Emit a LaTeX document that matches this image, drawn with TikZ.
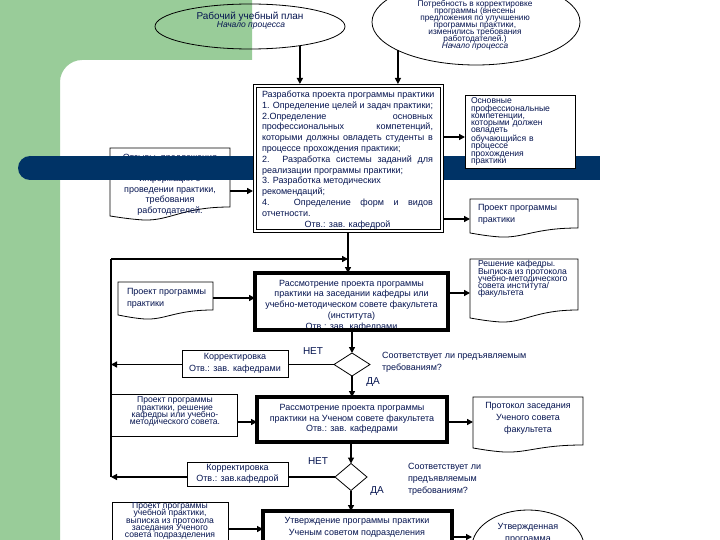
\documentclass[tikz,border=0pt]{standalone}
\usepackage{fontspec}
\setmainfont{Liberation Sans}
\usetikzlibrary{shapes.geometric,arrows.meta,calc}
\definecolor{bggreen}{RGB}{153,204,153}
\definecolor{navy}{RGB}{0,51,102}
\definecolor{ink}{RGB}{5,20,80}
\lineskiplimit=-100pt
\newcommand{\docshape}[6]{%
 \draw[line width=0.8pt, fill=white] (#2,#3) -- (#4,#3) -- (#4,#6)
   .. controls ({#4-0.4*(#4-#2)},#6) and ({#2+0.5*(#4-#2)},{#5+5}) .. ({#2+0.28*(#4-#2)},{#5+4})
   .. controls ({#2+0.15*(#4-#2)},{#5+3}) and ({#2+0.06*(#4-#2)},{#5+1}) .. (#2,#5) -- cycle;
 \node[minimum width={#4-#2}, minimum height={#5-#3}, anchor=north west] (#1) at (#2,#3) {};
}
\newcommand{\lnjust}[1]{\makebox[171pt][s]{#1}}
\newcommand{\lnleft}[1]{\makebox[171pt][l]{#1}}
\begin{document}
\begin{tikzpicture}[x=1pt,y=-1pt,
  every node/.style={inner sep=0pt, outer sep=0pt, text=ink, font=\fontsize{9}{10.8}\selectfont},
  tight/.style={font=\fontsize{8.6}{7.2}\selectfont},
  sp12/.style={font=\fontsize{9}{12}\selectfont},
  box/.style={draw=black, fill=white, line width=0.8pt},
  thickb/.style={draw=black, line width=3.5pt},
  arr/.style={draw=black, line width=1.3pt, -{Triangle[length=6pt,width=6pt]}},
  ln/.style={draw=black, line width=1.3pt},
  lbl/.style={font=\fontsize{10}{12}\selectfont}
]
\useasboundingbox (0,0) rectangle (720,540);
\clip (0,0) rectangle (720,540);
\fill[white] (0,0) rectangle (720,540);
\fill[bggreen] (0,0) -- (252,0) -- (252,60) -- (82,60) .. controls (70,60) and (60,70) .. (60,82) -- (60,540) -- (0,540) -- cycle;

% start ellipses
\node[ellipse, draw=black, line width=0.8pt, minimum width=190, minimum height=45] (e1) at (250,26.5) {};
\node[font=\fontsize{10}{12}\selectfont] (e1a) at (250,17) {Рабочий учебный план};
\node[font=\fontsize{8.5}{10}\selectfont\itshape] (e1b) at (251,25.5) {Начало процесса};
\node[ellipse, draw=black, line width=0.8pt, minimum width=208, minimum height=86] (e2) at (476,22) {};
\node[align=center, font=\fontsize{8.3}{6.9}\selectfont] (e2t) at (475,25.5) {Потребность в корректировке\\программы (внесены\\предложения по улучшению\\программы практики,\\изменились требования\\работодателей.)\\\textit{Начало процесса}};

% left document (partly under the bar)
\docshape{d1}{110}{148}{230}{216}{207}
\node[align=center, font=\fontsize{9}{10.5}\selectfont] (d1t) at (170,184.8) {Отзывы, предложения\\по практике,\\информация о\\проведении практики,\\требования\\работодателей.};

% navy bar
\fill[navy] (30,168) circle (12);
\fill[navy] (30,156) rectangle (600,180);

% main development box
\node[fill=white, minimum width=190, minimum height=148] (m1) at (348,158) {};
\draw[line width=0.8pt] (m1.north west) rectangle (m1.south east);
\draw[line width=0.8pt] ([shift={(3pt,-3pt)}]m1.north west) rectangle ([shift={(-3pt,3pt)}]m1.south east);
\node[align=left] (m1t) at (347.5,160) {\lnleft{Разработка проекта программы практики}\\
\lnjust{1. Определение целей и задач практики;}\\
\lnjust{2.Определение основных}\\
\lnjust{профессиональных компетенций,}\\
\lnjust{которыми должны овладеть студенты в}\\
\lnleft{процессе прохождения практики;}\\
\lnjust{2. Разработка системы заданий для}\\
\lnleft{реализации программы практики;}\\
\lnleft{3. Разработка методических}\\
\lnleft{рекомендаций;}\\
\lnjust{4. Определение форм и видов}\\
\lnleft{отчетности.}\\
\makebox[171pt][c]{Отв.: зав. кафедрой}};

% competences box
\node[box, tight, align=left, text width=98, inner xsep=6, minimum height=73] (r1) at (520,131.5) {Основные\\профессиональные\\компетенции,\\которыми должен\\овладеть\\обучающийся в\\процессе\\прохождения\\практики};

% project document right
\docshape{d2}{470}{199}{578}{233}{228}
\node[align=left, sp12, anchor=west] (d2t) at (478,214) {Проект программы\\практики};

% review 1
\node[fill=white, minimum width=193, minimum height=57] (rv1) at (351.5,301.5) {};
\node[align=center] (rv1t) at (351.5,305.5) {Рассмотрение проекта программы\\практики на заседании кафедры или\\учебно-методическом совете факультета\\(института)\\Отв.: зав. кафедрами};
\draw[thickb] (rv1.north west) rectangle (rv1.south east);

\docshape{d3}{118}{282}{213}{315}{310}
\node[align=left, sp12, anchor=west] (d3t) at (127,298) {Проект программы\\практики};

\docshape{d4}{470}{259}{578}{318}{310}
\node[align=left, tight, anchor=west] (d4t) at (478,279) {Решение кафедры.\\Выписка из протокола\\учебно-методического\\совета института/\\факультета};

% loop coordinates
\coordinate (Lt) at (111,259);

% decision 1
\node[diamond, draw=black, line width=0.8pt, fill=white, minimum width=36, minimum height=23, aspect=1.56] (D1) at (352,364.5) {};
\draw[arr] (D1.west) -- (D1.west -| Lt);
\node[box, sp12, align=center, minimum width=106, minimum height=27] (k1) at (235,363.5) {Корректировка\\Отв.: зав. кафедрами};
\node[lbl] (n1) at (313,351) {НЕТ};
\node[lbl] (y1) at (373,382) {ДА};
\node[sp12, align=left, anchor=west] (q1) at (382,362) {Соответствует ли предъявляемым\\требованиям?};

% review 2
\node[fill=white, minimum width=190, minimum height=45] (rv2) at (352,419.5) {};
\node[align=center] (rv2t) at (352,419) {Рассмотрение проекта программы\\практики на Ученом совете факультета\\Отв.: зав. кафедрами};
\draw[thickb] (rv2.north west) rectangle (rv2.south east);

\node[box, minimum width=126, minimum height=42, anchor=north west] (lb1) at (111,394) {};
\node[tight, align=center] (lb1t) at (175,411.5) {Проект программы\\практики, решение\\кафедры или учебно-\\методического совета.};

\docshape{d5}{473}{397}{583}{448}{445}
\node[sp12, align=center] (d5t) at (528,418) {Протокол заседания\\Ученого совета\\факультета};

% decision 2
\node[diamond, draw=black, line width=0.8pt, fill=white, minimum width=32, minimum height=27, aspect=1.2] (D2) at (351,477) {};
\coordinate (Lb) at (D2.west -| Lt);
\draw[arr] (D2.west) -- (Lb);
\node[box, align=center, font=\fontsize{9}{11}\selectfont, minimum width=101, minimum height=24] (k2) at (237.5,474) {Корректировка\\Отв.: зав.кафедрой};
\node[lbl] (n2) at (318,461) {НЕТ};
\node[lbl] (y2) at (377,491) {ДА};
\node[sp12, align=left, anchor=west] (q2) at (408,479) {Соответствует ли\\предъявляемым\\требованиям?};

% approval
\node[fill=white, minimum width=189, minimum height=49] (ap) at (357.5,535.5) {};
\node[sp12, align=center] (apt) at (357,527) {Утверждение программы практики\\Ученым советом подразделения};
\draw[thickb] (ap.north west) rectangle (ap.south east);

\node[box, minimum width=116, minimum height=60, anchor=north west] (bl) at (112,502) {};
\node[tight, align=center] (blt) at (170,521) {Проект программы\\учебной практики,\\выписка из протокола\\заседания Ученого\\совета подразделения};

\node[ellipse, draw=black, line width=0.8pt, minimum width=112, minimum height=74] (e3) at (528,547) {};
\node[sp12, align=center] (e3t) at (528,533) {Утвержденная\\программа};

% connectors
\coordinate (h137) at (0,137);
\coordinate (h191) at (0,191);
\coordinate (h219) at (0,219);
\coordinate (h293) at (0,293);
\coordinate (h298) at (0,298);
\coordinate (h422) at (0,422);
\coordinate (h529) at (0,529);
\coordinate (h537) at (0,537);
\draw[arr] (e1.-21) -- (e1.-21 |- m1.north);
\draw[arr] (e2.-160) -- (e2.-160 |- m1.north);
\draw[arr] (d1.east |- h191) -- (m1.west |- h191);
\draw[arr] (m1.east |- h137) -- (r1.west |- h137);
\draw[arr] (m1.east |- h219) -- (d2.west |- h219);
\draw[arr] (m1.south) -- (m1.south |- rv1.north);
\draw[ln] (Lb) -- (Lt);
\draw[arr] (Lt) -- (Lt -| m1.south);
\draw[arr] (d3.east |- h298) -- (rv1.west |- h298);
\draw[arr] (rv1.east |- h293) -- (d4.west |- h293);
\draw[arr] (rv1.south -| D1) -- (D1.north);
\draw[arr] (D1.south) -- (D1.south |- rv2.north);
\draw[arr] (lb1.east |- h422) -- (rv2.west |- h422);
\draw[arr] (rv2.east |- h422) -- (d5.west |- h422);
\draw[arr] (rv2.south -| D2) -- (D2.north);
\draw[arr] (D2.south) -- (D2.south |- ap.north);
\draw[arr] (bl.east |- h529) -- (ap.west |- h529);
\draw[arr] (ap.east |- h537) -- (e3.west |- h537);
\end{tikzpicture}
\end{document}
